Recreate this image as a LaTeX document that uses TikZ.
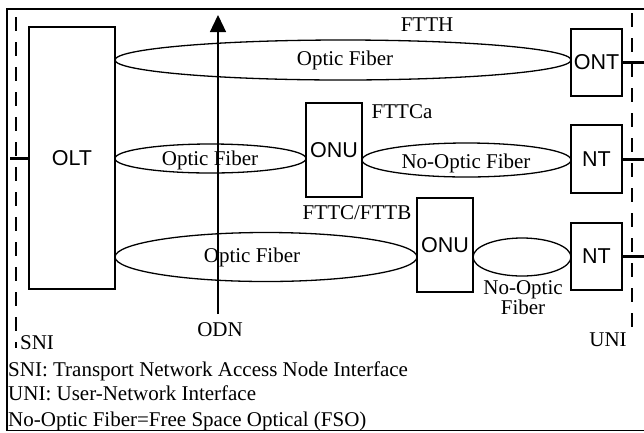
\documentclass[tikz,border=0pt]{standalone}
\usepackage{fontspec}
\setmainfont{Liberation Serif}
\newfontfamily\sansf{Liberation Sans}
\usetikzlibrary{shapes.geometric,arrows.meta}
\tikzset{
  unit/.style={draw, line width=1.3pt, inner sep=0pt, font=\sansf\fontsize{21.5}{22}\selectfont},
  fiber/.style={draw, ellipse, line width=1.3pt, inner sep=0pt},
  lbl/.style={inner sep=0pt, font=\fontsize{21}{22}\selectfont},
  iface/.style={line width=1.3pt, dash pattern=on 14pt off 11pt},
  tickmark/.style={line width=3pt},
}
\begin{document}
\begin{tikzpicture}[x=1pt,y=-1pt]
\useasboundingbox (0,0) rectangle (644,432);
% frame
\draw[line width=1.3pt] (646,9) -- (7,9) -- (7,430.5) -- (646,430.5);
% interface dashed lines
\coordinate (sniTop) at (16,17);
\coordinate (sniBot) at (16,348);
\coordinate (uniTop) at (632,13);
\coordinate (uniBot) at (632,338);
\draw[iface] (sniTop) -- (sniBot);
\draw[iface] (uniTop) -- (uniBot);
% boxes
\node[unit, minimum width=86, minimum height=262] (olt) at (72,158) {OLT};
\node[unit, minimum width=51, minimum height=67] (ont) at (596.5,62.5) {ONT};
\node[unit, minimum width=56, minimum height=94] (onu1) at (334,150) {ONU};
\node[unit, minimum width=51, minimum height=68] (nt1) at (596.5,159) {NT};
\node[unit, minimum width=56, minimum height=94] (onu2) at (445,245) {ONU};
\node[unit, minimum width=51, minimum height=67] (nt2) at (596.5,256.5) {NT};
% fibers
\node[fiber, minimum width=456, minimum height=40] (f1) at (343,60) {};
\node[fiber, minimum width=191, minimum height=29] (f2) at (210.5,158.5) {};
\node[fiber, minimum width=209, minimum height=34] (f3) at (466.5,160) {};
\node[fiber, minimum width=302, minimum height=49] (f4) at (266,257) {};
\node[fiber, minimum width=98, minimum height=38] (f5) at (522,257) {};
% ticks
\coordinate (tOLT) at (10,158);
\coordinate (tONT) at (644,62.5);
\coordinate (tNT1) at (644,159);
\coordinate (tNT2) at (644,256.5);
\draw[tickmark] (olt.west) -- (tOLT);
\draw[tickmark] (ont.east) -- (tONT);
\draw[tickmark] (nt1.east) -- (tNT1);
\draw[tickmark] (nt2.east) -- (tNT2);
% ODN arrow
\node[lbl] (odn) at (220,330) {ODN};
\coordinate (odnBot) at (218,314);
\coordinate (odnTop) at (218,15);
\draw[line width=1.3pt, -{Triangle[width=16pt,length=17pt]}] (odnBot) -- (odnTop);
% labels
\node[lbl] (lftth) at (427,25) {FTTH};
\node[lbl] (lf1) at (345,60) {Optic Fiber};
\node[lbl] (lfttca) at (402,112) {FTTCa};
\node[lbl] (lf2) at (210,160) {Optic Fiber};
\node[lbl] (lf3) at (466,163) {No-Optic Fiber};
\node[lbl] (lfttc) at (357,213) {FTTC/FTTB};
\node[lbl] (lf4) at (252,257) {Optic Fiber};
\node[lbl, align=center, font=\fontsize{21}{19}\selectfont] (lf5) at (523,297.5) {No-Optic\\Fiber};
\node[lbl] (lsni) at (37,343) {SNI};
\node[lbl] (luni) at (608,340) {UNI};
\node[lbl, anchor=base west] (n1) at (8,376) {SNI: Transport Network Access Node Interface};
\node[lbl, anchor=base west] (n2) at (8,400.5) {UNI: User-Network Interface};
\node[lbl, anchor=base west] (n3) at (8,426) {No-Optic Fiber=Free Space Optical (FSO)};
\end{tikzpicture}
\end{document}
